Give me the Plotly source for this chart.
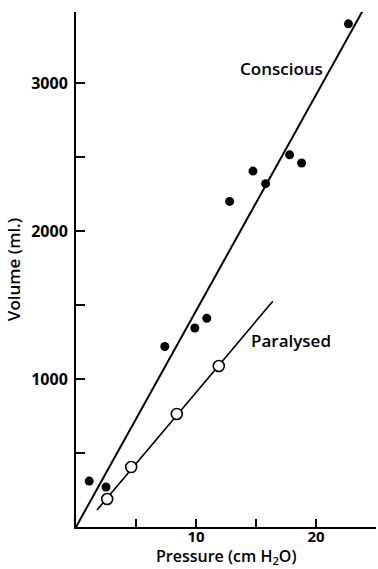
import plotly.graph_objects as go

# Pressure-volume measurements (pressure in cm H2O, volume in ml)
conscious_pressure = [1.1, 2.5, 7.4, 9.9, 10.9, 12.8, 14.75, 15.8, 17.8, 18.8, 22.7]
conscious_volume = [310, 270, 1220, 1345, 1410, 2200, 2405, 2320, 2515, 2460, 3400]

paralysed_pressure = [2.6, 4.6, 8.4, 11.9]
paralysed_volume = [189, 405, 764, 1088]

# Fitted regression lines: slope (ml per cm H2O), intercept (ml), pressure span
conscious_fit = {"slope": 146.0, "intercept": 0.0, "span": [0.0, 23.9]}
paralysed_fit = {"slope": 96.3, "intercept": -54.0, "span": [1.75, 16.4]}

x_ticks = [5, 10, 15, 20, 25]
x_tick_text = ["", "10", "", "20", ""]
y_ticks = [500, 1000, 1500, 2000, 2500, 3000]
y_tick_text = ["", "1000", "", "2000", "", "3000"]

FONT = "Open Sans"
label_font = dict(family=FONT, size=17, color="black", weight=600)
xtitle_font = dict(family=FONT, size=16, color="black", weight=600)
ytick_font = dict(family=FONT, size=16, color="black", weight="bold")
xtick_font = dict(family=FONT, size=15, color="black", weight="bold")


def fit_line(fit):
    xs = list(fit["span"])
    ys = [fit["slope"] * x + fit["intercept"] for x in xs]
    return xs, ys


fig = go.Figure()

cx, cy = fit_line(conscious_fit)
fig.add_trace(go.Scatter(x=cx, y=cy, mode="lines",
                         line=dict(color="black", width=2), hoverinfo="skip"))
px_, py_ = fit_line(paralysed_fit)
fig.add_trace(go.Scatter(x=px_, y=py_, mode="lines",
                         line=dict(color="black", width=1.6), hoverinfo="skip"))

fig.add_trace(go.Scatter(x=conscious_pressure, y=conscious_volume, mode="markers",
                         marker=dict(symbol="circle", size=9, color="black",
                                     line=dict(width=0))))
fig.add_trace(go.Scatter(x=paralysed_pressure, y=paralysed_volume, mode="markers",
                         marker=dict(symbol="circle", size=11, color="white",
                                     line=dict(color="black", width=1.6))))

fig.add_annotation(x=17.1, y=3100, text="Conscious", showarrow=False, font=label_font)
fig.add_annotation(x=17.9, y=1262, text="Paralysed", showarrow=False, font=label_font)

# x-axis title, set just below the tick labels
fig.add_annotation(x=0.5, xref="paper", y=0, yref="paper", yshift=-16,
                   xanchor="center", yanchor="top", showarrow=False,
                   text="Pressure (cm H<sub>2</sub>O)", font=xtitle_font)

fig.update_xaxes(range=[0, 25], tickmode="array", tickvals=x_ticks,
                 ticktext=x_tick_text, ticks="inside", ticklen=8,
                 tickcolor="black", tickwidth=1.6, ticklabelstandoff=-5,
                 tickfont=xtick_font,
                 showline=True, linecolor="black", linewidth=2,
                 showgrid=False, zeroline=False)
fig.update_yaxes(range=[0, 3480], tickmode="array", tickvals=y_ticks,
                 ticktext=y_tick_text, ticks="inside", ticklen=9,
                 tickcolor="black", tickwidth=1.6, ticklabelstandoff=3,
                 tickfont=ytick_font,
                 showline=True, linecolor="black", linewidth=2,
                 showgrid=False, zeroline=False,
                 title=dict(text="Volume (ml.)", standoff=6, font=label_font))

fig.update_layout(width=378, height=569, showlegend=False,
                  paper_bgcolor="white", plot_bgcolor="white",
                  margin=dict(l=76, r=2, t=12, b=42))

fig.write_html("out.html")
